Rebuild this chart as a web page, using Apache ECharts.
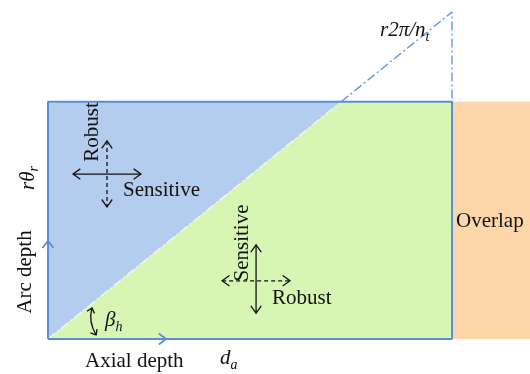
<!DOCTYPE html>
<html><head><meta charset="utf-8">
<script src="https://cdn.jsdelivr.net/npm/echarts@6/dist/echarts.min.js"></script>
<style>html,body{margin:0;padding:0;background:#fff}#c{width:530px;height:374px}</style>
</head><body><div id="c"></div>
<script>
// ---- diagram dimensions (normalised to the axial depth) ----
const axialDepth = 1.0;      // d_a
const overlapWidth = 0.193;  // overlap band
const arcDepth = 0.587;      // r·θ_r
const toothPitch = 0.809;    // r·2π/n_t
// annotation arrows [x1, y1, x2, y2] in diagram units
const arrowsSolid = [[0.062, 0.408, 0.230, 0.408], [0.515, 0.233, 0.515, 0.064]];
const arrowsDashed = [[0.146, 0.490, 0.146, 0.327], [0.431, 0.144, 0.599, 0.144]];
const axisArrows = [[0, 0.243, 0, 1], [0.292, 0, 1, 0]]; // tip x, tip y, direction
const betaArrow = [0.109, 0.077, 0.119, 0.010];

const LINE = '#5a8fd7';
const FILLS = ['#b4cdee', '#d7f6b3', '#fdd6a9'];
const FONT = 'Liberation Serif';

const xc = arcDepth / toothPitch * axialDepth;
const polys = [
  [[0, 0], [0, arcDepth], [xc, arcDepth]],
  [[0, 0], [xc, arcDepth], [axialDepth, arcDepth], [axialDepth, 0]],
  [[axialDepth, 0], [axialDepth + overlapWidth, 0], [axialDepth + overlapWidth, arcDepth], [axialDepth, arcDepth]]
];

function head(tip, dir, L, ang, style) {
  const dx = dir[0], dy = dir[1];
  const c = Math.cos(ang), s = Math.sin(ang);
  const a1 = [tip[0] - L * (dx * c - dy * s), tip[1] - L * (dx * s + dy * c)];
  const a2 = [tip[0] - L * (dx * c + dy * s), tip[1] - L * (-dx * s + dy * c)];
  return { type: 'polyline', shape: { points: [a1, tip, a2] }, style: style };
}
function unit(a, b) {
  const dx = b[0] - a[0], dy = b[1] - a[1]; const l = Math.hypot(dx, dy) || 1;
  return [dx / l, dy / l];
}

const ctx = document.createElement('canvas').getContext('2d');
function tw(text, size, italic) {
  ctx.font = (italic ? 'italic ' : '') + size + 'px "' + FONT + '"';
  return ctx.measureText(text).width;
}
function T(text, x, y, o) {
  o = o || {};
  return {
    type: 'text', x: x, y: y, rotation: o.rot || 0, z: 100,
    style: {
      text: text, fill: '#111', fontFamily: FONT, fontSize: o.size || 21,
      fontStyle: o.italic ? 'italic' : 'normal',
      align: o.align || 'left', verticalAlign: 'middle'
    }
  };
}
const R = Math.PI / 2;
const graphics = [];
// r2π/n_t
let w = tw('r2π/n', 21, true);
graphics.push(T('r2π/n', 380, 30, { italic: true }), T('t', 380 + w, 37, { italic: true, size: 14 }));
// rθ_r (rotated)
w = tw('rθ', 21, true);
graphics.push(T('rθ', 28, 190, { italic: true, rot: R }), T('r', 34, 190 - w, { italic: true, size: 14, rot: R }));
graphics.push(T('Arc depth', 25, 272, { align: 'center', rot: R }));
graphics.push(T('Robust', 92, 132, { align: 'center', rot: R }));
graphics.push(T('Sensitive', 123, 190));
graphics.push(T('Sensitive', 242, 243, { align: 'center', rot: R }));
graphics.push(T('Robust', 272, 298));
graphics.push(T('Overlap', 456, 221));
graphics.push(T('Axial depth', 85, 361));
w = tw('d', 21, true);
graphics.push(T('d', 220, 358, { italic: true }), T('a', 220 + w, 365, { italic: true, size: 14 }));
w = tw('β', 21, true);
graphics.push(T('β', 105, 320, { italic: true }), T('h', 105 + w, 327, { italic: true, size: 14 }));

const blackSolid = { stroke: '#111', lineWidth: 1.3, fill: null };
const blackDash = { stroke: '#111', lineWidth: 1.3, fill: null, lineDash: [4, 3] };

function arrowItems(list, dashed) {
  return list.map(a => ({ value: [a[0], a[1]], seg: a, dashed: dashed }));
}
const arrowData = arrowItems(arrowsSolid, false).concat(arrowItems(arrowsDashed, true));

const chart = echarts.init(document.getElementById('c'), null, { renderer: 'canvas' });
chart.setOption({
  animation: false,
  grid: { left: 48, top: 12, width: 482, height: 327 },
  xAxis: { type: 'value', min: 0, max: axialDepth + overlapWidth, show: false },
  yAxis: { type: 'value', min: 0, max: toothPitch, show: false },
  graphic: graphics,
  series: [
    {
      type: 'custom', clip: false, z: 1,
      data: polys.map((p, i) => [0.1, 0.1]),
      renderItem: function (params, api) {
        const pts = polys[params.dataIndex].map(p => api.coord(p));
        return { type: 'polygon', shape: { points: pts }, style: { fill: FILLS[params.dataIndex], stroke: null } };
      }
    },
    {
      type: 'line', z: 3, symbol: 'none', silent: true,
      data: [[0, 0], [xc, arcDepth]],
      lineStyle: { color: 'rgba(255,255,255,0.75)', width: 1.2, type: [9, 3, 2, 3] }
    },
    {
      type: 'line', z: 3, symbol: 'none', silent: true,
      data: [[xc, arcDepth], [axialDepth, toothPitch]],
      lineStyle: { color: LINE, width: 1.3, type: [9, 3, 2, 3] }
    },
    {
      type: 'line', z: 3, symbol: 'none', silent: true,
      data: [[axialDepth, arcDepth + 0.008], [axialDepth, toothPitch]],
      lineStyle: { color: LINE, width: 1.3, type: [9, 3, 2, 3] }
    },
    {
      type: 'line', z: 4, symbol: 'none', silent: true,
      data: [[0, 0], [0, arcDepth], [axialDepth, arcDepth], [axialDepth, 0], [0, 0]],
      lineStyle: { color: LINE, width: 2 }
    },
    {
      type: 'custom', clip: false, z: 5,
      data: axisArrows.map(a => [a[0], a[1]]),
      renderItem: function (params, api) {
        const a = axisArrows[params.dataIndex];
        const tip = api.coord([a[0], a[1]]);
        const dir = [a[2], -a[3]];
        return head(tip, dir, 9, 0.65, { stroke: LINE, lineWidth: 1.8, fill: null });
      }
    },
    {
      type: 'custom', clip: false, z: 6,
      data: arrowData.map(d => d.value),
      renderItem: function (params, api) {
        const d = arrowData[params.dataIndex];
        const p1 = api.coord([d.seg[0], d.seg[1]]);
        const p2 = api.coord([d.seg[2], d.seg[3]]);
        const st = d.dashed ? blackDash : blackSolid;
        const u = unit(p1, p2);
        return {
          type: 'group', children: [
            { type: 'line', shape: { x1: p1[0], y1: p1[1], x2: p2[0], y2: p2[1] }, style: st },
            head(p2, u, 9, 0.62, blackSolid),
            head(p1, [-u[0], -u[1]], 9, 0.62, blackSolid)
          ]
        };
      }
    },
    {
      type: 'custom', clip: false, z: 6,
      data: [[betaArrow[0], betaArrow[1]]],
      renderItem: function (params, api) {
        const p1 = api.coord([betaArrow[0], betaArrow[1]]);
        const p2 = api.coord([betaArrow[2], betaArrow[3]]);
        const cp = [(p1[0] + p2[0]) / 2 - 6, (p1[1] + p2[1]) / 2];
        return {
          type: 'group', children: [
            { type: 'bezierCurve', shape: { x1: p1[0], y1: p1[1], x2: p2[0], y2: p2[1], cpx1: cp[0], cpy1: cp[1] }, style: blackSolid },
            head(p1, unit(cp, p1), 6, 0.7, blackSolid),
            head(p2, unit(cp, p2), 6, 0.7, blackSolid)
          ]
        };
      }
    }
  ]
});
</script>
</body></html>
